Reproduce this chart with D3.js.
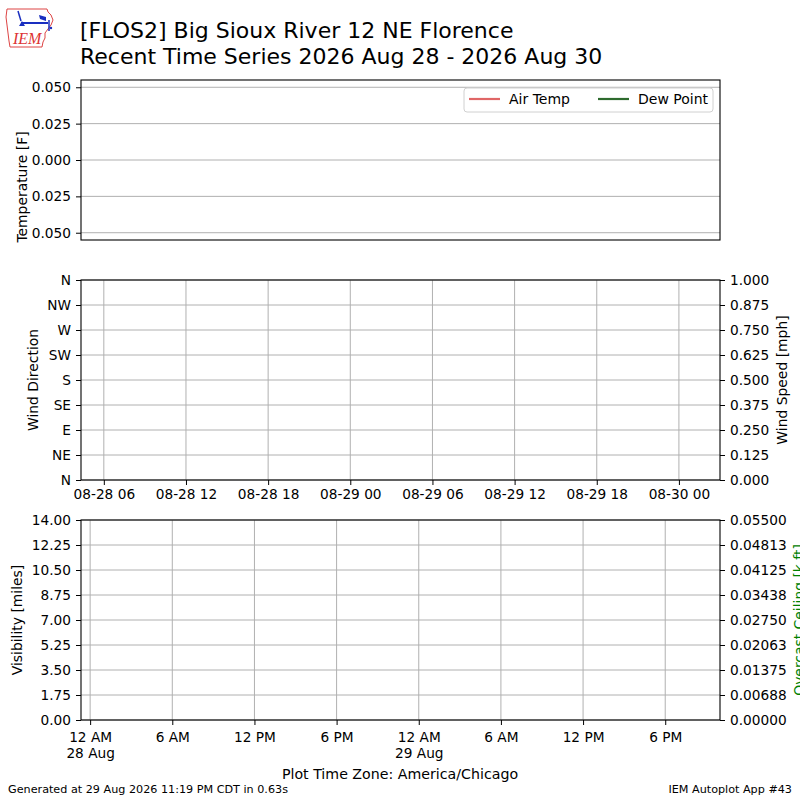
<!DOCTYPE html>
<html>
<head>
<meta charset="utf-8">
<script src="https://cdn.jsdelivr.net/npm/d3@7"></script>
<style>
  html, body { margin: 0; padding: 0; background: #fff; }
  svg { display: block; font-family: "DejaVu Sans", sans-serif; }
</style>
</head>
<body>
<svg id="chart" width="800" height="800"></svg>
<script>
// ---------------- data ----------------
const titleLines = ["[FLOS2] Big Sioux River 12 NE Florence",
                    "Recent Time Series 2026 Aug 28 - 2026 Aug 30"];
const legendLabels = ["Air Temp", "Dew Point"];
const legendColors = ["#e06666", "#2e6b2e"];

// series (no observations in the period)
const airTemp = [];      // [{t, v}]
const dewPoint = [];
const windDir = [];
const windSpeed = [];
const visibility = [];
const ceiling = [];

const tempTicks = [0.05, 0.025, 0, -0.025, -0.05];
const tempTickLabels = ["0.050", "0.025", "0.000", "0.025", "0.050"];
const tempDomain = [-0.055, 0.055];

const dirTicks = [0, 45, 90, 135, 180, 225, 270, 315, 360];
const dirLabels = ["N", "NE", "E", "SE", "S", "SW", "W", "NW", "N"];
const speedTicks = [0, 0.125, 0.25, 0.375, 0.5, 0.625, 0.75, 0.875, 1.0];
const speedLabels = ["0.000","0.125","0.250","0.375","0.500","0.625","0.750","0.875","1.000"];

const visTicks = [0, 1.75, 3.5, 5.25, 7, 8.75, 10.5, 12.25, 14];
const visLabels = ["0.00","1.75","3.50","5.25","7.00","8.75","10.50","12.25","14.00"];
const ceilTicks = [0, 0.006875, 0.01375, 0.020625, 0.0275, 0.034375, 0.04125, 0.048125, 0.055];
const ceilLabels = ["0.00000","0.00688","0.01375","0.02063","0.02750","0.03438","0.04125","0.04813","0.05500"];

// time windows (middle panel in UTC, bottom panel in local time)
const midStart = Date.UTC(2026, 7, 28, 4, 20), midEnd = Date.UTC(2026, 7, 30, 3, 0);
const botStart = Date.UTC(2026, 7, 27, 23, 20), botEnd = Date.UTC(2026, 7, 29, 22, 0);

// ---------------- drawing ----------------
const svg = d3.select("#chart");
const X0 = 81, X1 = 720;
const P = { top: [80, 240], mid: [280, 480], bot: [520, 720] };
const GRID = "#b0b0b0";
const TICK_FS = "13.7px", LAB_FS = "13.9px";

svg.append("rect").attr("width", 800).attr("height", 800).attr("fill", "#fff");

// logo
const logo = svg.append("g");
logo.append("path")
  .attr("d", "M7,9 L47,9 L48,12 L51,15 L53,20 L51,25 L48,29 L45,33 L45,38 L43,42 L42,47 L10,47 L9,41 L8,33 L7,25 L6,17 Z")
  .attr("fill", "#fff").attr("stroke", "#d44", "stroke-width", 1).attr("stroke-width", 1);
logo.append("line").attr("x1", 21).attr("y1", 23).attr("x2", 48).attr("y2", 23)
  .attr("stroke", "#1a2fc0").attr("stroke-width", 2);
logo.append("line").attr("x1", 18).attr("y1", 11).attr("x2", 21).attr("y2", 21)
  .attr("stroke", "#1a2fc0").attr("stroke-width", 1.5);
logo.append("path").attr("d", "M39,15 L46,17 L46,21 L40,19 Z").attr("fill", "#1a2fc0");
logo.append("path").attr("d", "M19,26 L22,21 L25,26 Z").attr("fill", "#1a2fc0");
logo.append("line").attr("x1", 49).attr("y1", 20).attr("x2", 49).attr("y2", 31)
  .attr("stroke", "#1a2fc0").attr("stroke-width", 1.5);
logo.append("circle").attr("cx", 51).attr("cy", 28).attr("r", 1.2).attr("fill", "#1a2fc0");
logo.append("text").attr("x", 13).attr("y", 44).text("IEM")
  .attr("font-family", "Liberation Serif, serif").attr("font-style", "italic")
  .attr("font-size", "16px").attr("fill", "#d33");

// title
titleLines.forEach((t, i) => {
  svg.append("text").attr("x", 80).attr("y", i === 0 ? 38 : 63.5)
    .attr("font-size", "22px").attr("fill", "#000").text(t);
});

function hGrid(g, scale, ticks) {
  g.selectAll(null).data(ticks).enter().append("line")
    .attr("x1", X0).attr("x2", X1)
    .attr("y1", d => scale(d)).attr("y2", d => scale(d))
    .attr("stroke", GRID).attr("stroke-width", 1);
}
function vGrid(g, scale, ticks, y0, y1) {
  g.selectAll(null).data(ticks).enter().append("line")
    .attr("x1", d => scale(d)).attr("x2", d => scale(d))
    .attr("y1", y0).attr("y2", y1)
    .attr("stroke", GRID).attr("stroke-width", 1);
}
function leftAxis(g, scale, ticks, labels) {
  const ax = d3.axisLeft(scale).tickValues(ticks).tickSize(5).tickPadding(5)
    .tickFormat((d, i) => labels[i]);
  const a = g.append("g").attr("transform", `translate(${X0},0)`).call(ax);
  a.select(".domain").remove();
  a.selectAll("text").attr("font-size", TICK_FS).attr("font-family", "DejaVu Sans").attr("fill", "#000");
  a.selectAll("line").attr("stroke", "#000");
}
function rightAxis(g, scale, ticks, labels) {
  const ax = d3.axisRight(scale).tickValues(ticks).tickSize(5).tickPadding(5)
    .tickFormat((d, i) => labels[i]);
  const a = g.append("g").attr("transform", `translate(${X1},0)`).call(ax);
  a.select(".domain").remove();
  a.selectAll("text").attr("font-size", TICK_FS).attr("font-family", "DejaVu Sans").attr("fill", "#000");
  a.selectAll("line").attr("stroke", "#000");
}
function frame(g, y0, y1) {
  g.append("rect").attr("x", X0).attr("y", y0).attr("width", X1 - X0).attr("height", y1 - y0)
    .attr("fill", "none").attr("stroke", "#000").attr("stroke-width", 1.1);
}
function vLabel(x, y, text, color) {
  svg.append("text").attr("transform", `translate(${x},${y}) rotate(-90)`)
    .attr("text-anchor", "middle").attr("font-size", LAB_FS).attr("fill", color || "#000").text(text);
}

// ---- top panel: temperature ----
const gTop = svg.append("g");
const yTemp = d3.scaleLinear().domain(tempDomain).range([P.top[1], P.top[0]]);
const xTop = d3.scaleUtc().domain([botStart, botEnd]).range([X0, X1]);
hGrid(gTop, yTemp, tempTicks);
const lineT = d3.line().x(d => xTop(d.t)).y(d => yTemp(d.v));
gTop.append("path").datum(airTemp).attr("d", lineT).attr("fill", "none").attr("stroke", legendColors[0]).attr("stroke-width", 2);
gTop.append("path").datum(dewPoint).attr("d", lineT).attr("fill", "none").attr("stroke", legendColors[1]).attr("stroke-width", 2);
leftAxis(gTop, yTemp, tempTicks, tempTickLabels);
frame(gTop, P.top[0], P.top[1]);
vLabel(27, 187, "Temperature [F]");

// legend
const lg = svg.append("g");
lg.append("rect").attr("x", 464).attr("y", 88).attr("width", 249).attr("height", 24)
  .attr("rx", 3).attr("fill", "#fff").attr("fill-opacity", 0.8).attr("stroke", "#d0d0d0").attr("stroke-width", 1);
const legX = [469, 598];
legendLabels.forEach((l, i) => {
  lg.append("line").attr("x1", legX[i]).attr("x2", legX[i] + 31).attr("y1", 99).attr("y2", 99)
    .attr("stroke", legendColors[i]).attr("stroke-width", 2.2);
  lg.append("text").attr("x", legX[i] + 40).attr("y", 104).attr("font-size", "14px").text(l);
});

// ---- middle panel: wind ----
const gMid = svg.append("g");
const xMid = d3.scaleUtc().domain([midStart, midEnd]).range([X0, X1]);
const yDir = d3.scaleLinear().domain([0, 360]).range([P.mid[1], P.mid[0]]);
const ySpd = d3.scaleLinear().domain([0, 1]).range([P.mid[1], P.mid[0]]);
const midTicks = xMid.ticks(d3.utcHour.every(6));
vGrid(gMid, xMid, midTicks, P.mid[0], P.mid[1]);
hGrid(gMid, yDir, dirTicks);
gMid.selectAll(null).data(windDir).enter().append("circle")
  .attr("cx", d => xMid(d.t)).attr("cy", d => yDir(d.v)).attr("r", 2).attr("fill", "#000");
gMid.append("path").datum(windSpeed).attr("d", d3.line().x(d => xMid(d.t)).y(d => ySpd(d.v)))
  .attr("fill", "none").attr("stroke", "#00f");
leftAxis(gMid, yDir, dirTicks, dirLabels);
rightAxis(gMid, ySpd, speedTicks, speedLabels);
{
  const ax = d3.axisBottom(xMid).tickValues(midTicks).tickSize(5).tickPadding(5)
    .tickFormat(d3.utcFormat("%m-%d %H"));
  const a = gMid.append("g").attr("transform", `translate(0,${P.mid[1]})`).call(ax);
  a.select(".domain").remove();
  a.selectAll("text").attr("font-size", TICK_FS).attr("font-family", "DejaVu Sans").attr("fill", "#000")
    .attr("dy", null).attr("y", 19);
  a.selectAll("line").attr("stroke", "#000");
}
frame(gMid, P.mid[0], P.mid[1]);
vLabel(38, 380, "Wind Direction");
vLabel(787, 380, "Wind Speed [mph]");

// ---- bottom panel: visibility / ceiling ----
const gBot = svg.append("g");
const xBot = d3.scaleUtc().domain([botStart, botEnd]).range([X0, X1]);
const yVis = d3.scaleLinear().domain([0, 14]).range([P.bot[1], P.bot[0]]);
const yCeil = d3.scaleLinear().domain([0, 0.055]).range([P.bot[1], P.bot[0]]);
const botTicks = xBot.ticks(d3.utcHour.every(6));
vGrid(gBot, xBot, botTicks, P.bot[0], P.bot[1]);
hGrid(gBot, yVis, visTicks);
gBot.append("path").datum(visibility).attr("d", d3.line().x(d => xBot(d.t)).y(d => yVis(d.v)))
  .attr("fill", "none").attr("stroke", "#00f");
gBot.append("path").datum(ceiling).attr("d", d3.line().x(d => xBot(d.t)).y(d => yCeil(d.v)))
  .attr("fill", "none").attr("stroke", "green");
leftAxis(gBot, yVis, visTicks, visLabels);
rightAxis(gBot, yCeil, ceilTicks, ceilLabels);
{
  const hourFmt = d => {
    const h = d.getUTCHours();
    return (h % 12 === 0 ? 12 : h % 12) + (h < 12 ? " AM" : " PM");
  };
  const ax = d3.axisBottom(xBot).tickValues(botTicks).tickSize(5).tickFormat("");
  const a = gBot.append("g").attr("transform", `translate(0,${P.bot[1]})`).call(ax);
  a.select(".domain").remove();
  a.selectAll("line").attr("stroke", "#000");
  a.selectAll(".tick").each(function (d) {
    const t = d3.select(this).select("text").attr("y", 22).attr("dy", null)
      .attr("font-size", TICK_FS).attr("font-family", "DejaVu Sans").attr("fill", "#000");
    t.text(null);
    t.append("tspan").attr("x", 0).text(hourFmt(d));
    if (d.getUTCHours() === 0) {
      t.append("tspan").attr("x", 0).attr("dy", 15.5).text(d3.utcFormat("%d %b")(d));
    }
  });
}
frame(gBot, P.bot[0], P.bot[1]);
vLabel(22, 620, "Visibility [miles]");
vLabel(804, 620, "Overcast Ceiling [k ft]", "green");

// footer
svg.append("text").attr("x", 400).attr("y", 779).attr("text-anchor", "middle")
  .attr("font-size", "14.2px").text("Plot Time Zone: America/Chicago");
svg.append("text").attr("x", 8).attr("y", 793).attr("font-size", "11.2px")
  .text("Generated at 29 Aug 2026 11:19 PM CDT in 0.63s");
svg.append("text").attr("x", 792).attr("y", 793).attr("text-anchor", "end").attr("font-size", "11.2px")
  .text("IEM Autoplot App #43");
</script>
</body>
</html>
